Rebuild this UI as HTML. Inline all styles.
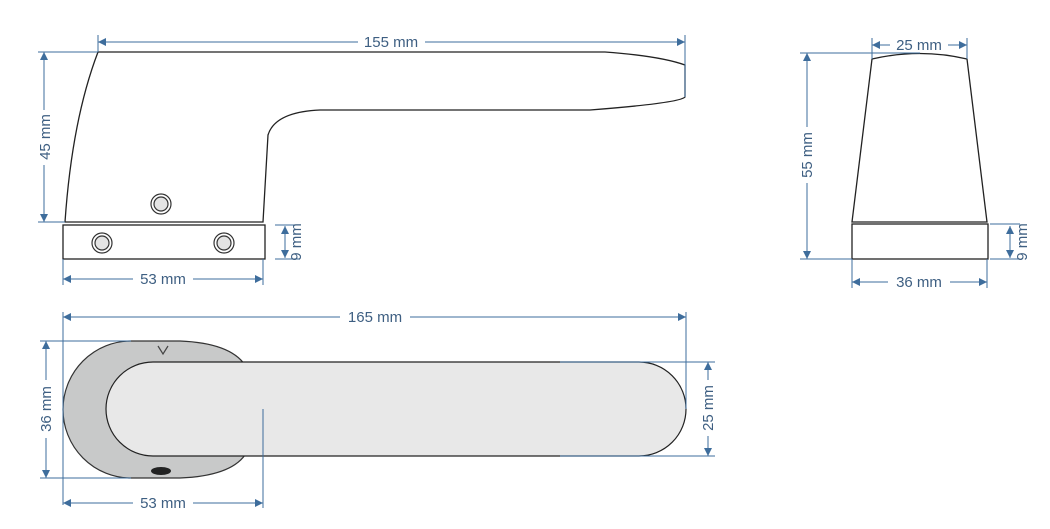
<!DOCTYPE html>
<html><head><meta charset="utf-8"><style>body{margin:0;background:#fff}svg{display:block}</style></head><body>
<svg width="1050" height="529" viewBox="0 0 1050 529" xmlns="http://www.w3.org/2000/svg" font-family="Liberation Sans, sans-serif">
<defs>
<marker id="a" viewBox="0 0 10 10" refX="10" refY="5" markerWidth="14" markerHeight="8" markerUnits="userSpaceOnUse" orient="auto-start-reverse"><path d="M0,0L10,5L0,10z" fill="#3e6d9c"/></marker>
</defs>
<g fill="#fff" stroke="#222" stroke-width="1.3">
<path d="M98,52 H605 Q660,56 685,65 V97 Q680,103 590,110 H320 Q275,112 268,135 L263,222 H65 Q72,120 98,52Z"/>
<rect x="63" y="225" width="202" height="34"/>
<path d="M872,59 Q920,48 967,59 L987,222 H852Z"/>
<rect x="852" y="224" width="136" height="35"/>
</g>
<g fill="#e4e4e4" stroke="#333" stroke-width="1.2">
<circle cx="161" cy="204" r="10" fill="#fff"/><circle cx="161" cy="204" r="7"/>
<circle cx="102" cy="243" r="10" fill="#fff"/><circle cx="102" cy="243" r="7"/>
<circle cx="224" cy="243" r="10" fill="#fff"/><circle cx="224" cy="243" r="7"/>
</g>
<path d="M131,341 H180 Q230,343 245,365 V455 Q230,476 180,478 H131 A68,68.5 0 0 1 131,341Z" fill="#c8c9c9" stroke="#333" stroke-width="1.2"/>
<path d="M153,362 H639 A47,47 0 0 1 639,456 H153 A47,47 0 0 1 153,362Z" fill="#e8e8e8" stroke="#222" stroke-width="1.2"/>
<path d="M158,346 L163,354 L168,346" fill="none" stroke="#444" stroke-width="1.2"/>
<ellipse cx="161" cy="471" rx="10" ry="4" fill="#222"/>
<g stroke="#3e6d9c" stroke-width="1" fill="none">
<path d="M98,35V52M685,35V97M38,52H98M38,222H65M275,225H300M275,259H300M63,259V285M263,259V285"/>
<path d="M872,38V59M967,38V59M800,53H920M800,259H852M990,224H1020M990,259H1020M852,259V288M987,259V288"/>
<path d="M63,312V505M686,312V409M40,341H131M40,478H131M560,362H715M560,456H715M263,409V508"/>
<line x1="98" y1="42" x2="358" y2="42" marker-start="url(#a)"/><line x1="425" y1="42" x2="685" y2="42" marker-end="url(#a)"/>
<line x1="44" y1="52" x2="44" y2="110" marker-start="url(#a)"/><line x1="44" y1="165" x2="44" y2="222" marker-end="url(#a)"/>
<line x1="285" y1="226" x2="285" y2="258" marker-start="url(#a)" marker-end="url(#a)"/>
<line x1="63" y1="279" x2="133" y2="279" marker-start="url(#a)"/><line x1="193" y1="279" x2="263" y2="279" marker-end="url(#a)"/>
<line x1="872" y1="45" x2="890" y2="45" marker-start="url(#a)"/><line x1="948" y1="45" x2="967" y2="45" marker-end="url(#a)"/>
<line x1="807" y1="53" x2="807" y2="127" marker-start="url(#a)"/><line x1="807" y1="183" x2="807" y2="259" marker-end="url(#a)"/>
<line x1="1010" y1="226" x2="1010" y2="258" marker-start="url(#a)" marker-end="url(#a)"/>
<line x1="852" y1="282" x2="888" y2="282" marker-start="url(#a)"/><line x1="950" y1="282" x2="987" y2="282" marker-end="url(#a)"/>
<line x1="63" y1="317" x2="340" y2="317" marker-start="url(#a)"/><line x1="410" y1="317" x2="686" y2="317" marker-end="url(#a)"/>
<line x1="46" y1="341" x2="46" y2="380" marker-start="url(#a)"/><line x1="46" y1="438" x2="46" y2="478" marker-end="url(#a)"/>
<line x1="708" y1="362" x2="708" y2="380" marker-start="url(#a)"/><line x1="708" y1="436" x2="708" y2="456" marker-end="url(#a)"/>
<line x1="63" y1="503" x2="133" y2="503" marker-start="url(#a)"/><line x1="193" y1="503" x2="263" y2="503" marker-end="url(#a)"/>
</g>
<g fill="#3e5f82" font-size="15" text-anchor="middle">
<text x="391" y="47">155 mm</text>
<text x="163" y="284">53 mm</text>
<text x="919" y="50">25 mm</text>
<text x="919" y="287">36 mm</text>
<text x="375" y="322">165 mm</text>
<text x="163" y="508">53 mm</text>
<text transform="translate(50,137) rotate(-90)">45 mm</text>
<text transform="translate(301,242) rotate(-90)">9 mm</text>
<text transform="translate(812,155) rotate(-90)">55 mm</text>
<text transform="translate(1027,242) rotate(-90)">9 mm</text>
<text transform="translate(51,409) rotate(-90)">36 mm</text>
<text transform="translate(713,408) rotate(-90)">25 mm</text>
</g>
</svg>
</body></html>
